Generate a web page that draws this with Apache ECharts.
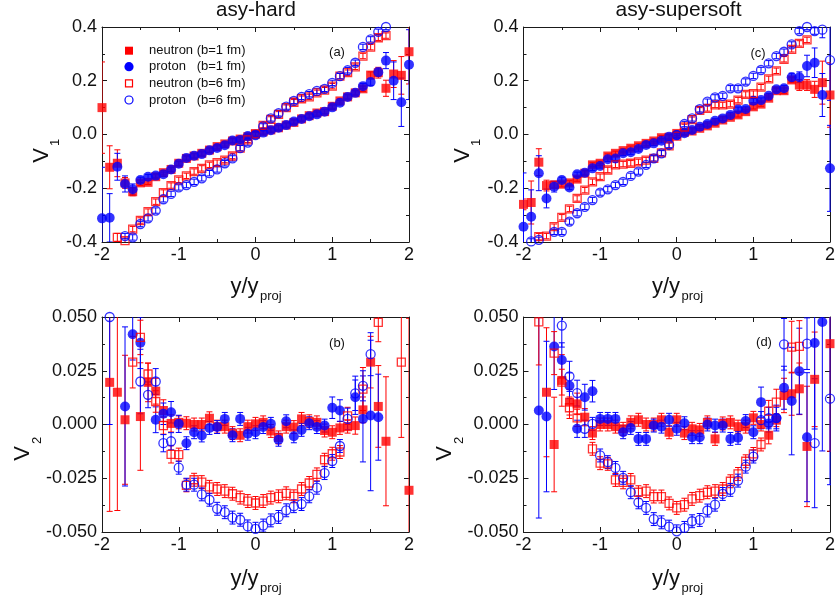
<!DOCTYPE html>
<html><head><meta charset="utf-8">
<script src="https://cdn.jsdelivr.net/npm/echarts@6/dist/echarts.min.js"></script>
<style>html,body{margin:0;padding:0;background:#fff}#c{width:838px;height:606px}</style>
</head><body><div id="c"></div>
<script>
// rapidity bins y/y_proj
const X = [-2.0,-1.9,-1.8,-1.7,-1.6,-1.5,-1.4,-1.3,-1.2,-1.1,-1.0,-0.9,-0.8,-0.7,-0.6,-0.5,-0.4,-0.3,-0.2,-0.1,0.0,0.1,0.2,0.3,0.4,0.5,0.6,0.7,0.8,0.9,1.0,1.1,1.2,1.3,1.4,1.5,1.6,1.7,1.8,1.9,2.0];
const seriesNames = ['neutron (b=1 fm)','proton   (b=1 fm)','neutron (b=6 fm)','proton   (b=6 fm)'];
const titles = ['asy-hard','asy-supersoft'];
const panelLetters = ['(a)','(b)','(c)','(d)'];
const xTicks = ['-2','-1','0','1','2'];

// (a) asy-hard V1
const A_n1 = [0.10,-0.122,-0.107,-0.18,-0.213,-0.18,-0.178,-0.157,-0.142,-0.13,-0.107,-0.089,-0.08,-0.07,-0.058,-0.045,-0.035,-0.024,-0.017,-0.008,0.002,0.01,0.017,0.025,0.035,0.045,0.058,0.07,0.08,0.085,0.105,0.125,0.14,0.155,0.17,0.221,0.23,0.172,0.225,0.22,0.308];
const A_n1_err = [0.17,0.08,0.05,0.02,0.015,0.01,0.008,0.008,0.008,0.008,0.008,0.008,0.008,0.008,0.008,0.008,0.008,0.008,0.008,0.008,0.008,0.008,0.008,0.008,0.008,0.008,0.008,0.008,0.008,0.008,0.008,0.008,0.008,0.008,0.01,0.012,0.02,0.03,0.05,0.07,0.12];
const A_p1 = [-0.312,-0.31,-0.12,-0.184,-0.204,-0.169,-0.157,-0.153,-0.148,-0.13,-0.109,-0.087,-0.079,-0.073,-0.059,-0.05,-0.04,-0.022,-0.02,-0.006,0.0,0.007,0.016,0.025,0.035,0.048,0.058,0.068,0.075,0.085,0.101,0.118,0.14,0.155,0.18,0.195,0.232,0.275,0.2,0.12,0.26];
const A_p1_err = [0.19,0.09,0.05,0.03,0.02,0.01,0.008,0.008,0.008,0.008,0.008,0.008,0.008,0.008,0.008,0.008,0.008,0.008,0.008,0.008,0.008,0.008,0.008,0.008,0.008,0.008,0.008,0.008,0.008,0.008,0.008,0.008,0.008,0.008,0.01,0.012,0.015,0.03,0.07,0.09,0.13];
const A_n6 = [null,null,-0.383,-0.395,-0.352,-0.32,-0.287,-0.25,-0.216,-0.19,-0.169,-0.154,-0.138,-0.126,-0.113,-0.105,-0.095,-0.08,-0.051,-0.02,0.002,0.034,0.056,0.075,0.1,0.12,0.133,0.14,0.155,0.165,0.18,0.217,0.23,0.252,0.292,0.325,0.36,0.368,null,null,null];
const A_n6_err = [0,0,0.015,0.01,0.01,0.01,0.01,0.01,0.01,0.01,0.01,0.01,0.01,0.01,0.01,0.01,0.01,0.01,0.01,0.01,0.01,0.01,0.01,0.01,0.01,0.01,0.01,0.01,0.01,0.01,0.01,0.01,0.01,0.01,0.01,0.01,0.01,0.01,0,0,0];
const A_p6 = [null,null,null,-0.378,-0.383,-0.333,-0.312,-0.283,-0.241,-0.221,-0.197,-0.188,-0.176,-0.163,-0.144,-0.13,-0.107,-0.089,-0.051,-0.03,-0.002,0.03,0.06,0.079,0.104,0.125,0.14,0.15,0.162,0.17,0.192,0.217,0.239,0.267,0.326,0.354,0.382,0.4,null,null,null];
const A_p6_err = [0,0,0,0.01,0.01,0.01,0.01,0.01,0.01,0.01,0.01,0.01,0.01,0.01,0.01,0.01,0.01,0.01,0.01,0.01,0.01,0.01,0.01,0.01,0.01,0.01,0.01,0.01,0.01,0.01,0.01,0.01,0.01,0.01,0.01,0.01,0.01,0.01,0,0,0];

// (c) asy-supersoft V1
const C_n1 = [-0.26,-0.253,-0.103,-0.19,-0.187,-0.185,-0.18,-0.166,-0.144,-0.113,-0.107,-0.08,-0.07,-0.06,-0.051,-0.042,-0.033,-0.024,-0.012,-0.01,0.004,0.008,0.013,0.023,0.032,0.042,0.054,0.064,0.073,0.085,0.103,0.113,0.135,0.163,0.163,0.203,0.184,0.184,0.168,0.193,0.147];
const C_n1_err = [0.02,0.08,0.05,0.02,0.012,0.01,0.008,0.008,0.008,0.008,0.008,0.008,0.008,0.008,0.008,0.008,0.008,0.008,0.008,0.008,0.008,0.008,0.008,0.008,0.008,0.008,0.008,0.008,0.008,0.008,0.008,0.008,0.008,0.008,0.01,0.01,0.02,0.02,0.03,0.08,0.12];
const C_p1 = [-0.343,-0.306,-0.144,-0.238,-0.194,-0.169,-0.197,-0.148,-0.142,-0.126,-0.117,-0.092,-0.089,-0.07,-0.066,-0.054,-0.039,-0.033,-0.023,-0.008,-0.002,0.005,0.017,0.029,0.039,0.051,0.06,0.073,0.094,0.095,0.126,0.128,0.144,0.168,0.172,0.213,0.213,0.255,0.267,0.147,-0.126];
const C_p1_err = [0.2,0.1,0.065,0.035,0.02,0.01,0.008,0.008,0.008,0.008,0.008,0.008,0.008,0.008,0.008,0.008,0.008,0.008,0.008,0.008,0.008,0.008,0.008,0.008,0.008,0.008,0.008,0.008,0.008,0.008,0.008,0.008,0.008,0.008,0.01,0.015,0.02,0.04,0.055,0.08,0.16];
const C_n6 = [null,null,-0.38,-0.378,-0.343,-0.308,-0.277,-0.238,-0.207,-0.176,-0.157,-0.132,-0.113,-0.11,-0.107,-0.102,-0.095,-0.089,-0.068,-0.042,-0.006,0.028,0.055,0.09,0.097,0.11,0.11,0.113,0.128,0.149,0.152,0.176,0.207,0.237,0.28,0.317,0.339,0.352,null,null,null];
const C_n6_err = [0,0,0.012,0.01,0.01,0.01,0.01,0.01,0.01,0.01,0.01,0.01,0.01,0.01,0.01,0.01,0.01,0.01,0.01,0.01,0.01,0.01,0.01,0.01,0.01,0.01,0.01,0.01,0.01,0.01,0.01,0.01,0.01,0.01,0.01,0.01,0.01,0.01,0,0,0];
const C_p6 = [null,-0.398,-0.392,null,-0.362,-0.362,-0.324,-0.293,-0.269,-0.244,-0.216,-0.204,-0.188,-0.176,-0.154,-0.138,-0.113,-0.089,-0.07,-0.039,-0.002,0.039,0.06,0.094,0.122,0.138,0.144,0.172,0.172,0.197,0.218,0.24,0.265,0.292,0.308,0.335,0.385,0.4,0.385,0.39,0.277];
const C_p6_err = [0,0.01,0.01,0,0.01,0.01,0.01,0.01,0.01,0.01,0.01,0.01,0.01,0.01,0.01,0.01,0.01,0.01,0.01,0.01,0.01,0.01,0.01,0.01,0.01,0.01,0.01,0.01,0.01,0.01,0.01,0.01,0.01,0.01,0.01,0.01,0.01,0.01,0.012,0.03,0.15];

// (b) asy-hard V2
const B_n1 = [null,0.0196,0.015,0.0022,null,0.0037,0.0196,0.0155,0.0065,0.0005,0.001,0.0006,0.0,0.0,0.0029,-0.001,-0.001,-0.004,-0.005,-0.001,0.0003,0.001,-0.003,-0.006,-0.001,-0.0012,0.0026,0.0015,0.001,-0.0028,-0.0036,-0.0016,-0.001,-0.0005,0.0068,0.029,0.0084,-0.0078,null,null,-0.0306];
const B_n1_err = [0,0.06,0.055,0.03,0,0.025,0.009,0.006,0.005,0.004,0.003,0.003,0.003,0.003,0.003,0.003,0.003,0.003,0.003,0.003,0.003,0.003,0.003,0.003,0.003,0.003,0.003,0.003,0.003,0.003,0.003,0.003,0.003,0.004,0.006,0.012,0.019,0.03,0,0,0.08];
const B_p1 = [null,null,null,0.0084,0.042,0.038,null,0.0022,0.005,0.0057,0.0003,-0.0087,-0.0036,-0.0051,-0.0016,-0.0012,0.0026,-0.005,0.0026,-0.0043,-0.0036,-0.0012,0.0003,-0.0071,0.0015,-0.0055,-0.0025,0.0006,-0.0012,-0.0005,0.0078,0.0065,null,0.0127,0.0026,0.0042,0.0034,null,null,null,null];
const B_p1_err = [0,0,0,0.037,0.012,0.012,0,0.006,0.005,0.005,0.004,0.003,0.003,0.003,0.003,0.003,0.003,0.003,0.003,0.003,0.003,0.003,0.003,0.003,0.003,0.003,0.003,0.003,0.003,0.003,0.005,0.005,0,0.008,0.02,0.035,0.02,0,0,0,0];
const B_n6 = [null,null,null,null,0.029,0.0405,0.0235,0.0107,-0.0005,-0.0139,-0.014,-0.0283,-0.0257,-0.0268,-0.029,-0.030,-0.031,-0.0322,-0.034,-0.0356,-0.0365,-0.0356,-0.034,-0.0334,-0.032,-0.0334,-0.030,-0.0272,-0.0232,-0.0164,-0.0136,-0.0128,0.004,null,0.0165,null,0.0475,null,null,0.029,null];
const B_n6_err = [0,0,0,0,0.012,0.008,0.005,0.005,0.004,0.004,0.003,0.003,0.003,0.003,0.003,0.003,0.003,0.003,0.003,0.003,0.003,0.003,0.003,0.003,0.003,0.003,0.003,0.003,0.003,0.003,0.003,0.003,0.004,0,0.01,0,0.009,0,0,0.035,0];
const B_p6 = [null,0.05,null,null,null,0.020,0.0138,0.020,-0.0087,-0.0078,-0.0201,-0.028,-0.028,-0.0325,-0.035,-0.0392,-0.0408,-0.0433,-0.0443,-0.0474,-0.0485,-0.047,-0.0446,-0.043,-0.0399,-0.038,-0.037,-0.0334,-0.0294,-0.0226,-0.017,-0.01,0.0026,0.0145,0.018,0.0327,null,null,null,null,null];
const B_p6_err = [0,0.05,0,0,0,0.015,0.006,0.006,0.004,0.004,0.003,0.003,0.003,0.003,0.003,0.003,0.003,0.003,0.003,0.003,0.003,0.003,0.003,0.003,0.003,0.003,0.003,0.003,0.003,0.003,0.003,0.003,0.005,0.008,0.007,0.01,0,0,0,0,0];

// (d) asy-supersoft V2
const D_n1 = [null,null,null,0.015,-0.0093,0.0205,0.0104,0.0096,0.0034,-0.004,0.0,0.0,-0.001,-0.002,0.001,0.0022,0.0,0.0,0.0022,-0.0036,0.0022,-0.004,-0.002,-0.0025,0.001,-0.0067,0.0005,0.001,-0.001,-0.001,0.0031,0.0,-0.005,0.002,0.0135,0.0143,0.0166,-0.0102,0.021,null,0.0376];
const D_n1_err = [0,0,0,0.03,0.022,0.012,0.006,0.005,0.004,0.003,0.003,0.003,0.003,0.003,0.003,0.003,0.003,0.003,0.003,0.003,0.003,0.003,0.003,0.003,0.003,0.003,0.003,0.003,0.003,0.003,0.003,0.003,0.004,0.003,0.008,0.01,0.012,0.028,0.022,0,0.05];
const D_p1 = [null,null,0.0065,0.0037,0.0363,0.030,0.018,-0.002,0.0127,0.0155,0.0026,0.0026,0.0026,-0.0036,-0.0016,-0.0067,-0.0067,-0.0005,-0.001,0.0022,-0.002,0.0006,-0.0059,-0.0059,0.0,-0.0005,-0.0005,-0.0067,-0.0062,0.0016,-0.0036,0.0104,0.0005,0.003,0.0171,0.0109,0.0248,-0.0059,0.0379,0.0477,null];
const D_p1_err = [0,0,0.05,0.035,0.02,0.008,0.006,0.004,0.006,0.005,0.003,0.003,0.003,0.003,0.003,0.003,0.003,0.003,0.003,0.003,0.003,0.003,0.003,0.003,0.003,0.003,0.003,0.003,0.003,0.003,0.003,0.007,0.004,0.005,0.01,0.025,0.02,0.03,0.04,0.06,0];
const D_n6 = [null,null,0.0477,null,0.0332,0.0197,0.0078,0.0031,null,-0.0113,-0.018,-0.0183,-0.0258,-0.0269,-0.0258,-0.0315,-0.031,-0.0335,-0.0335,-0.0367,-0.0388,-0.0373,-0.0346,-0.0331,-0.0315,-0.031,-0.030,-0.0264,-0.023,-0.0171,-0.0137,-0.0093,0.0062,0.0104,null,0.036,0.0363,null,null,null,null];
const D_n6_err = [0,0,0.02,0,0.01,0.006,0.005,0.004,0,0.003,0.003,0.003,0.003,0.003,0.003,0.003,0.003,0.003,0.003,0.003,0.003,0.003,0.003,0.003,0.003,0.003,0.003,0.003,0.003,0.003,0.003,0.003,0.005,0.006,0,0.012,0.012,0,0,0,0];
const D_p6 = [null,null,null,null,null,0.046,0.0224,0.0146,-0.002,0.0003,-0.0144,-0.0175,-0.0202,-0.0248,-0.0315,-0.0362,-0.0388,-0.044,-0.0455,-0.0475,-0.0497,-0.0481,-0.045,-0.0444,-0.04,-0.0373,-0.0323,-0.0304,-0.0261,-0.0196,-0.0149,0.002,0.003,0.003,0.0373,null,null,0.0376,-0.0087,null,0.012];
const D_p6_err = [0,0,0,0,0,0.01,0.007,0.006,0.004,0.003,0.003,0.003,0.003,0.003,0.003,0.003,0.003,0.003,0.003,0.003,0.003,0.003,0.003,0.003,0.003,0.003,0.003,0.003,0.003,0.003,0.003,0.004,0.005,0.006,0.012,0,0,0.012,0.03,0,0.04];

const FONT = '"Liberation Sans", Arial, Helvetica, sans-serif';
const RED = '#ff0000', BLUE = '#0000ff', AX = '#1a1a1a';

const panels = [
  {grid:{left:102, top:27, width:307, height:215}, ymin:-0.4, ymax:0.4, yint:0.2, dec:1,
   vals:[A_n1,A_p1,A_n6,A_p6], errs:[A_n1_err,A_p1_err,A_n6_err,A_p6_err]},
  {grid:{left:102, top:317, width:307, height:215}, ymin:-0.05, ymax:0.05, yint:0.025, dec:3,
   vals:[B_n1,B_p1,B_n6,B_p6], errs:[B_n1_err,B_p1_err,B_n6_err,B_p6_err]},
  {grid:{left:523.5, top:27, width:308, height:215}, ymin:-0.4, ymax:0.4, yint:0.2, dec:1,
   vals:[C_n1,C_p1,C_n6,C_p6], errs:[C_n1_err,C_p1_err,C_n6_err,C_p6_err]},
  {grid:{left:523.5, top:317, width:308, height:215}, ymin:-0.05, ymax:0.05, yint:0.025, dec:3,
   vals:[D_n1,D_p1,D_n6,D_p6], errs:[D_n1_err,D_p1_err,D_n6_err,D_p6_err]}
];

const HOLLOW = 'rgba(255,255,255,0)';
const kinds = [
  {symbol:'rect', size:9, itemStyle:{color:RED}, ec:RED},
  {symbol:'circle', size:10, itemStyle:{color:BLUE}, ec:BLUE},
  {symbol:'rect', size:8, itemStyle:{color:HOLLOW, borderColor:RED, borderWidth:1.3}, ec:RED},
  {symbol:'circle', size:9, itemStyle:{color:HOLLOW, borderColor:BLUE, borderWidth:1.3}, ec:BLUE}
];

function errItem(params, api) {
  const x = api.value(0), y = api.value(1), e = api.value(2);
  const t = api.coord([x, y + e]), b = api.coord([x, y - e]);
  const hw = 3;
  const st = {stroke: api.visual('color'), lineWidth: 1};
  return {type:'group', children:[
    {type:'line', shape:{x1:t[0], y1:t[1], x2:b[0], y2:b[1]}, style:st},
    {type:'line', shape:{x1:t[0]-hw, y1:t[1], x2:t[0]+hw, y2:t[1]}, style:st},
    {type:'line', shape:{x1:b[0]-hw, y1:b[1], x2:b[0]+hw, y2:b[1]}, style:st}
  ]};
}

const grids = [], xAxes = [], yAxes = [], series = [];
panels.forEach((p, k) => {
  grids.push(p.grid);
  const tick = {inside:true, length:5, lineStyle:{color:AX, width:1}};
  const minor = {show:true, splitNumber:2, length:3, lineStyle:{color:AX, width:1}};
  const line = {show:true, onZero:false, lineStyle:{color:AX, width:1}};
  xAxes.push({type:'value', gridIndex:k, min:-2, max:2, interval:1, position:'bottom',
    axisLine:line, axisTick:tick, minorTick:minor, splitLine:{show:false},
    axisLabel:{fontSize:18, color:'#111', fontFamily:FONT, margin:4,
      formatter:(v)=>xTicks[Math.round(v)+2]}});
  xAxes.push({type:'value', gridIndex:k, min:-2, max:2, interval:1, position:'top',
    axisLine:line, axisTick:tick, minorTick:minor, splitLine:{show:false}, axisLabel:{show:false}});
  yAxes.push({type:'value', gridIndex:k, min:p.ymin, max:p.ymax, interval:p.yint, position:'left',
    axisLine:line, axisTick:tick, minorTick:minor, splitLine:{show:false},
    axisLabel:{fontSize:18, color:'#111', fontFamily:FONT, margin:5,
      formatter:(v)=>(Math.abs(v) < 1e-9 ? 0 : v).toFixed(p.dec)}});
  yAxes.push({type:'value', gridIndex:k, min:p.ymin, max:p.ymax, interval:p.yint, position:'right',
    axisLine:line, axisTick:tick, minorTick:minor, splitLine:{show:false}, axisLabel:{show:false}});
  kinds.forEach((kd, s) => {
    const vals = p.vals[s], errs = p.errs[s];
    const pts = [], ebs = [];
    X.forEach((x, i) => {
      if (vals[i] === null) return;
      pts.push([x, vals[i]]);
      if (errs[i] > 0) ebs.push([x, vals[i], errs[i]]);
    });
    series.push({type:'custom', xAxisIndex:2*k, yAxisIndex:2*k, renderItem:errItem, data:ebs,
      clip:true, silent:true, itemStyle:{color:kd.ec, opacity:0.9}, z:2});
    series.push({type:'scatter', name:seriesNames[s], xAxisIndex:2*k, yAxisIndex:2*k, data:pts,
      symbol:kd.symbol, symbolSize:kd.size, itemStyle:kd.itemStyle, clip:true, silent:true, z:2});
  });
});

const g = [];
g.push({type:'text', x:256, y:10, style:{text:titles[0], fontSize:20.5, fontFamily:FONT, fill:'#111', textAlign:'center', textVerticalAlign:'middle'}});
g.push({type:'text', x:678.5, y:10, style:{text:titles[1], fontSize:21, fontFamily:FONT, fill:'#111', textAlign:'center', textVerticalAlign:'middle'}});
const letterPos = [[337,52],[337,343],[758,53],[764,342]];
panelLetters.forEach((t, i) => g.push({type:'text', x:letterPos[i][0], y:letterPos[i][1],
  style:{text:t, fontSize:13, fontFamily:FONT, fill:'#111', textAlign:'center', textVerticalAlign:'middle'}}));
// legend (panel a)
const legRows = [50.7, 66.7, 83.3, 100];
const legIcons = [
  {type:'rect', shape:{x:125, y:legRows[0]-4, width:8, height:8}, style:{fill:RED}},
  {type:'circle', shape:{cx:129, cy:legRows[1], r:4.6}, style:{fill:BLUE}},
  {type:'rect', shape:{x:125.5, y:legRows[2]-3.5, width:7, height:7}, style:{fill:HOLLOW, stroke:RED, lineWidth:1.2}},
  {type:'circle', shape:{cx:129, cy:legRows[3], r:4}, style:{fill:HOLLOW, stroke:BLUE, lineWidth:1.2}}
];
legIcons.forEach((ic, i) => {
  g.push(ic);
  g.push({type:'text', x:149, y:legRows[i], style:{text:seriesNames[i], fontSize:13, fontFamily:FONT, fill:'#111', textAlign:'left', textVerticalAlign:'middle'}});
});
// y titles V1 / V2 (rotated)
const vPos = [[41.5,155.5,'1'],[23,453.5,'2'],[462.5,155.5,'1'],[445,453.5,'2']];
vPos.forEach(v => g.push({type:'group', x:v[0], y:v[1], rotation:Math.PI/2, children:[
  {type:'text', x:0, y:0, style:{text:'V', fontSize:22, fontFamily:FONT, fill:'#111', textAlign:'center', textVerticalAlign:'middle'}},
  {type:'text', x:13, y:14, style:{text:v[2], fontSize:13, fontFamily:FONT, fill:'#111', textAlign:'center', textVerticalAlign:'middle'}}
]}));
// x titles y/y_proj
const xtPos = [[258.5,287],[258.5,579],[680,287],[680,579]];
xtPos.forEach(p => {
  g.push({type:'text', x:p[0], y:p[1], style:{text:'y/y', fontSize:22, fontFamily:FONT, fill:'#111', textAlign:'right', textVerticalAlign:'middle'}});
  g.push({type:'text', x:p[0]+1.5, y:p[1]+9, style:{text:'proj', fontSize:13, fontFamily:FONT, fill:'#111', textAlign:'left', textVerticalAlign:'middle'}});
});

const chart = echarts.init(document.getElementById('c'), null, {renderer:'canvas'});
chart.setOption({
  animation:false,
  backgroundColor:'#fff',
  grid:grids, xAxis:xAxes, yAxis:yAxes, series:series,
  graphic:g
});
</script>
</body></html>
